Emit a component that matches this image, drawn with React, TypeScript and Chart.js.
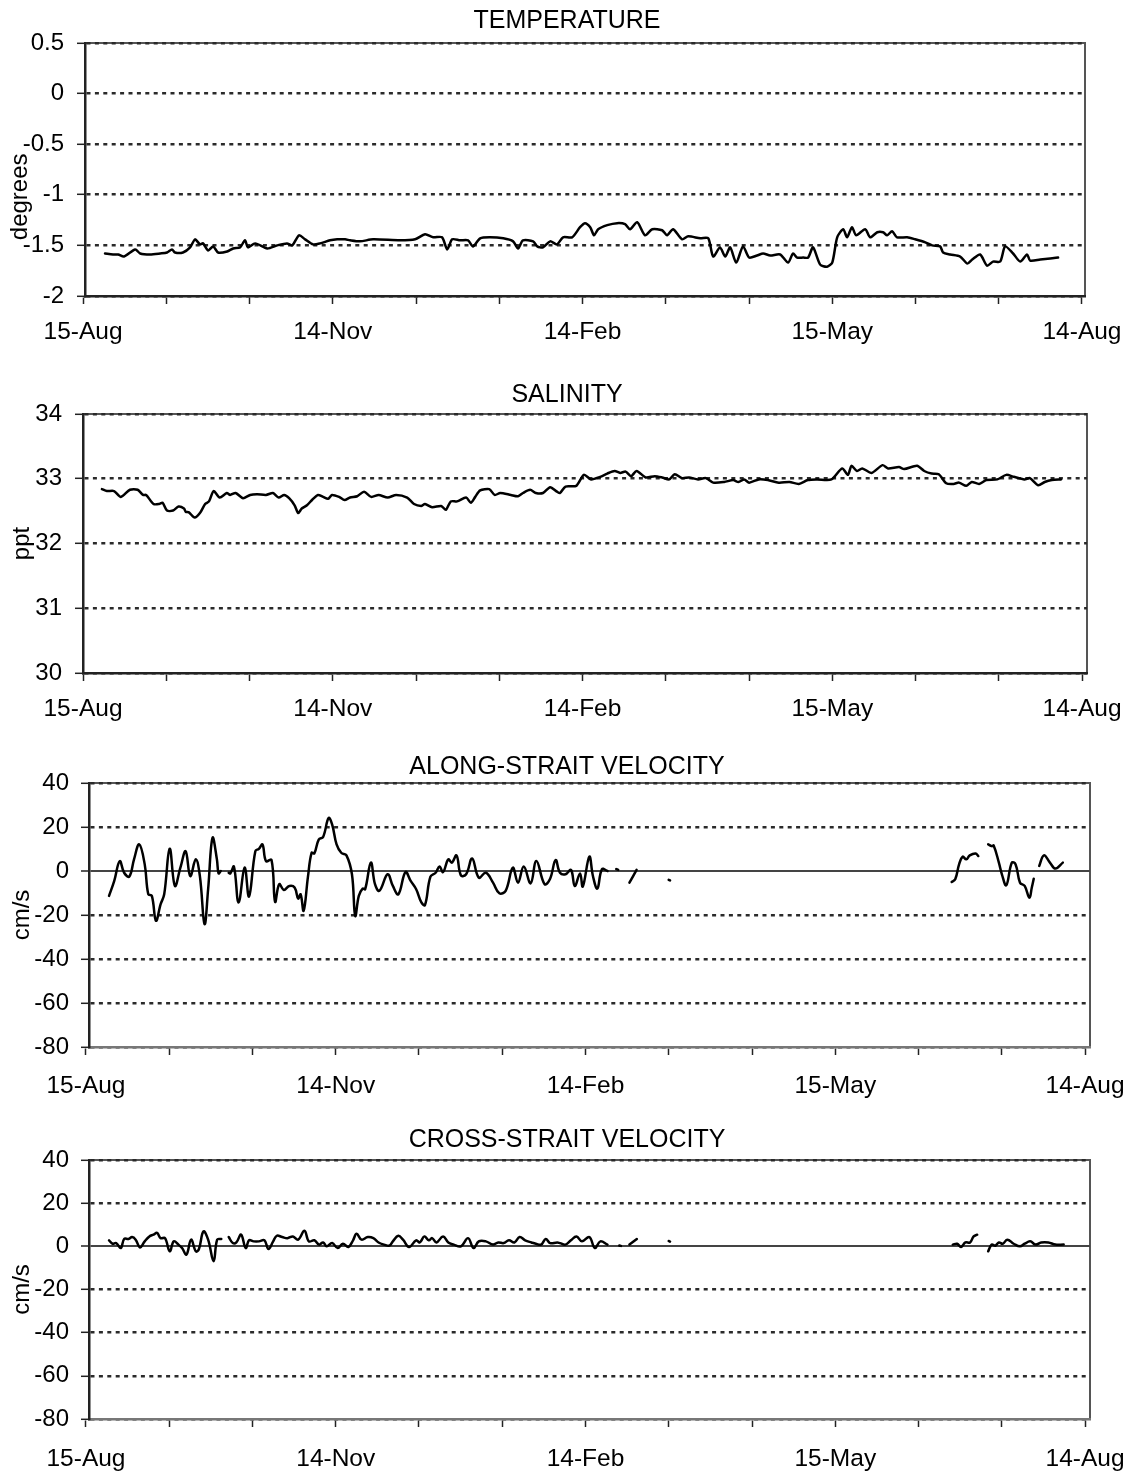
import React, { useEffect, useRef } from 'react';
import { Chart, registerables } from 'chart.js';

Chart.register(...registerables);

const FONT = '"Liberation Sans", Arial, Helvetica, sans-serif';

// ---------- axis labels / ticks ----------
const xTickDays = [0, 30.33, 60.67, 91, 121.33, 151.67, 182, 212.33, 242.67, 273, 303.33, 333.67, 364];
const xTickLabels = ['15-Aug', '14-Nov', '14-Feb', '15-May', '14-Aug'];
const tempTicks = [0.5, 0, -0.5, -1, -1.5, -2];
const salTicks = [34, 33, 32, 31, 30];
const velTicks = [40, 20, 0, -20, -40, -60, -80];

// ---------- TEMPERATURE (days since 15-Aug, degrees) ----------
const tempDays = [8.0, 10.9, 12.8, 14.9, 19.0, 20.8, 24.4, 28.1, 30.6, 32.4, 33.5, 36.4, 39.0, 40.8, 42.6, 43.7, 45.6, 47.4, 49.2, 52.5, 54.7, 57.2, 59.0, 60.1, 62.7, 67.1, 70.7, 74.3, 76.2, 78.7, 80.9, 83.8, 86.4, 90.0, 92.6, 95.5, 97.3, 100.9, 105.7, 115.5, 121.0, 124.6, 127.6, 130.8, 132.7, 134.5, 137.4, 140.3, 142.1, 144.7, 148.3, 153.1, 156.7, 158.5, 160.3, 164.0, 165.5, 167.6, 170.2, 172.7, 174.9, 178.2, 181.1, 182.9, 184.8, 186.2, 187.7, 191.0, 194.6, 197.5, 199.3, 201.9, 204.8, 207.4, 211.0, 212.8, 215.0, 218.3, 220.5, 224.9, 227.8, 229.6, 232.1, 234.0, 235.8, 238.0, 240.5, 242.7, 245.6, 247.8, 250.4, 254.0, 256.9, 258.7, 260.2, 262.4, 264.2, 266.0, 268.6, 271.1, 273.0, 274.8, 277.0, 278.4, 280.2, 281.7, 285.0, 286.8, 289.4, 291.5, 293.0, 294.8, 296.6, 300.3, 303.2, 306.9, 309.4, 312.3, 313.4, 316.0, 319.6, 322.2, 324.0, 326.9, 329.4, 331.6, 334.2, 336.0, 338.9, 341.5, 344.0, 345.1, 348.8, 352.4, 355.3];
const tempValues = [-1.58, -1.59, -1.59, -1.61, -1.54, -1.58, -1.59, -1.58, -1.57, -1.54, -1.57, -1.57, -1.52, -1.44, -1.49, -1.48, -1.55, -1.51, -1.57, -1.56, -1.53, -1.52, -1.45, -1.52, -1.48, -1.53, -1.50, -1.48, -1.50, -1.40, -1.44, -1.49, -1.48, -1.45, -1.44, -1.44, -1.45, -1.46, -1.44, -1.45, -1.44, -1.39, -1.42, -1.42, -1.54, -1.44, -1.45, -1.45, -1.51, -1.43, -1.42, -1.43, -1.46, -1.53, -1.45, -1.46, -1.51, -1.52, -1.46, -1.49, -1.42, -1.42, -1.32, -1.28, -1.32, -1.40, -1.34, -1.30, -1.28, -1.29, -1.34, -1.27, -1.40, -1.34, -1.35, -1.40, -1.34, -1.44, -1.41, -1.43, -1.43, -1.61, -1.52, -1.61, -1.52, -1.67, -1.51, -1.62, -1.60, -1.58, -1.60, -1.59, -1.67, -1.58, -1.62, -1.62, -1.62, -1.52, -1.69, -1.71, -1.67, -1.42, -1.34, -1.42, -1.32, -1.40, -1.34, -1.42, -1.37, -1.37, -1.40, -1.36, -1.42, -1.42, -1.44, -1.47, -1.50, -1.51, -1.57, -1.59, -1.61, -1.68, -1.64, -1.59, -1.70, -1.66, -1.66, -1.51, -1.58, -1.66, -1.59, -1.65, -1.64, -1.63, -1.62];

// ---------- SALINITY (ppt) ----------
const salDays = [6.9, 8.7, 11.3, 13.8, 17.1, 19.9, 21.9, 23.0, 25.7, 27.7, 29.0, 30.6, 32.8, 34.8, 36.8, 37.4, 38.6, 40.7, 42.6, 44.5, 45.9, 47.6, 49.8, 52.4, 53.6, 55.6, 58.3, 60.9, 63.4, 66.7, 69.2, 71.3, 73.3, 75.1, 77.1, 78.4, 79.7, 81.6, 83.6, 85.6, 87.5, 89.3, 90.7, 93.3, 95.3, 97.3, 99.9, 102.4, 105.0, 107.7, 111.0, 114.1, 118.1, 120.6, 123.2, 124.6, 127.2, 130.5, 132.2, 134.0, 136.3, 139.6, 141.3, 142.9, 144.7, 148.0, 150.0, 152.0, 155.9, 158.5, 160.3, 162.9, 165.0, 167.6, 170.2, 172.7, 173.8, 175.8, 179.7, 182.5, 185.1, 188.4, 191.0, 193.7, 195.7, 197.7, 199.7, 201.7, 205.0, 208.3, 211.0, 213.6, 215.6, 218.3, 220.8, 224.1, 226.9, 229.6, 233.6, 236.9, 238.8, 240.9, 242.7, 246.2, 249.5, 253.5, 257.4, 260.8, 264.1, 267.4, 272.7, 276.6, 278.7, 280.0, 282.0, 283.9, 287.3, 291.3, 293.3, 297.3, 299.2, 303.9, 306.5, 309.2, 311.8, 314.5, 317.2, 319.2, 321.8, 323.8, 326.5, 329.1, 333.1, 336.4, 339.1, 343.0, 345.0, 348.0, 350.4, 353.0, 356.3];
const salValues = [32.84, 32.81, 32.81, 32.72, 32.83, 32.83, 32.75, 32.75, 32.61, 32.61, 32.63, 32.51, 32.51, 32.57, 32.54, 32.49, 32.48, 32.40, 32.47, 32.61, 32.65, 32.81, 32.71, 32.78, 32.75, 32.78, 32.70, 32.75, 32.76, 32.75, 32.78, 32.71, 32.75, 32.70, 32.59, 32.47, 32.54, 32.59, 32.68, 32.75, 32.72, 32.69, 32.75, 32.72, 32.67, 32.71, 32.73, 32.80, 32.72, 32.75, 32.71, 32.75, 32.71, 32.61, 32.58, 32.61, 32.56, 32.58, 32.52, 32.65, 32.65, 32.71, 32.63, 32.72, 32.82, 32.84, 32.75, 32.78, 32.75, 32.73, 32.78, 32.83, 32.78, 32.78, 32.87, 32.80, 32.78, 32.88, 32.89, 33.06, 32.99, 33.03, 33.08, 33.12, 33.09, 33.11, 33.04, 33.12, 33.02, 33.04, 33.02, 32.99, 33.07, 33.01, 33.02, 32.99, 33.01, 32.94, 32.95, 32.98, 32.95, 32.99, 32.94, 32.99, 32.98, 32.94, 32.95, 32.92, 32.98, 32.99, 32.99, 33.16, 33.06, 33.20, 33.12, 33.16, 33.09, 33.21, 33.16, 33.18, 33.15, 33.20, 33.12, 33.08, 33.07, 32.93, 32.92, 32.94, 32.89, 32.95, 32.92, 32.98, 32.99, 33.06, 33.03, 32.99, 33.01, 32.90, 32.95, 32.98, 32.99];

// ---------- ALONG-STRAIT VELOCITY (cm/s), null = gap in record ----------
const alongDays = [8.4, 10.3, 12.3, 13.9, 15.8, 17.5, 19.4, 21.4, 22.7, 24.0, 25.5, 27.2, 28.5, 30.5, 32.4, 34.4, 36.3, 38.0, 40.0, 41.5, 43.2, 44.5, 46.1, 47.7, 48.3, 49.1,
  50.5,
  52.0, 52.6, 53.9, 55.6, 57.8, 59.4, 61.7, 63.0, 64.3, 65.6, 67.6, 68.9, 70.4, 72.1, 74.1, 76.0, 77.3, 78.2, 79.3, 80.9, 82.2, 83.2, 84.8, 86.4, 88.4, 89.7, 91.3, 93.0, 94.9, 96.9, 98.1, 99.4, 100.8, 101.7, 103.8, 105.3, 106.9, 109.9, 111.8, 113.8, 116.4, 118.3, 120.3, 122.2, 123.5, 125.5, 127.4, 128.8, 130.1, 132.0, 133.3, 135.0, 136.6, 138.5, 140.7, 143.1, 145.7, 148.3, 150.6, 152.9, 155.5, 157.4, 159.5, 162.0, 164.1, 167.1, 169.1, 171.1, 172.7, 174.7, 176.7, 178.1, 180.0, 181.0, 183.4, 184.7, 186.3, 188.0, 190.0,
  191.0, 193.2, 193.9, 195.0, 198.0, 200.6, 205.0, 212.3, 212.8, 260.0,
  315.4, 316.7, 318.1, 319.4, 320.7, 322.0, 324.1, 325.1,
  327.0,
  328.7, 330.0, 330.7, 332.6, 333.7, 335.3, 337.3, 338.7, 340.3, 342.0, 343.7, 344.6, 345.3,
  346.3,
  347.3, 349.0, 351.2, 353.2, 355.9];
const alongValues = [-11.3, -4.5, 4.5, -0.8, -2.5, 5.3, 12.1, 3.0, -10.6, -11.3, -22.6, -15.1, -10.6, 10.1, -6.8, 1.5, 9.0, -2.3, 5.3, -2.3, -24.1, -8.3, 15.1, 5.3, -1.1, 0,
  null,
  -0.8, -1.1, 2.0, -14.3, 1.5, -11.6, 9.0, 10.1, 12.1, 4.5, 5.0, -14.0, -6.0, -8.6, -6.8, -7.5, -12.5, -10.6, -18.1, -2.3, 8.3, 8.0, 14.3, 15.5, 24.1, 21.1, 12.1, 8.3, 7.1, -1.5, -20.4, -11.3, -8.0, -8.3, 3.8, -6.0, -9.0, -1.5, -6.8, -10.6, -0.5, -4.5, -8.3, -14.3, -15.5, -2.6, -0.8, 2.0, -0.5, 5.3, 3.8, 7.1, -2.0, -1.5, 5.7, -3.0, -0.8, -5.3, -10.1, -9.0, 1.5, -5.3, 2.0, -5.6, 4.5, -6.0, -3.5, 5.0, -0.8, -1.5, 0.5, -6.8, -1.1, -7.1, 6.5, -2.3, -8.0, 0.8, 0,
  null, 0.9, 0.5, null, -5.3, 0.5, null, -4.0, -4.3, null,
  -5.0, -3.8, 3.0, 6.5, 5.3, 7.1, 8.0, 6.8,
  null,
  12.1, 11.3, 11.6, 3.8, -1.5, -6.5, 3.8, 3.0, -5.3, -6.8, -12.1, -7.5, -3.5,
  null,
  2.3, 7.1, 3.8, 1.1, 3.8];

// ---------- CROSS-STRAIT VELOCITY (cm/s), null = gap in record ----------
const crossDays = [8.4, 9.7, 11.0, 12.7, 13.9, 15.5, 16.8, 18.1, 19.7, 21.4, 23.1, 24.6, 25.9, 27.2, 28.8, 30.5, 32.0, 33.7, 35.0, 36.6, 38.3, 40.0, 41.1, 42.8, 44.5, 46.5, 47.8, 49.3,
  50.5,
  52.0, 53.5, 54.8, 56.5, 58.2, 59.4, 61.1, 63.0, 65.0, 66.5, 68.2, 69.5, 71.5, 73.4, 75.4, 77.3, 79.6, 81.2, 83.2, 84.9, 86.4, 87.7, 89.7, 91.7, 93.6, 95.6, 97.3, 98.6, 100.4, 102.7, 104.7, 106.6, 108.6, 110.5, 111.8, 113.8, 115.5, 117.7, 120.3, 121.6, 123.3, 124.9, 126.1, 127.7, 130.1, 132.0, 134.0, 136.6, 139.2, 141.2, 143.1, 145.7, 148.3, 150.2, 152.2, 154.1, 156.1, 158.0, 160.0, 162.3, 163.9, 165.8, 167.5, 169.1, 171.7, 172.7, 174.7, 176.7, 178.7, 180.7, 183.4, 185.4, 187.4, 190.0,
  192.0, 194.3, 194.9, 196.0, 198.0, 200.7, 205.0, 212.3, 212.8, 260.0,
  315.8, 317.4, 318.8, 320.4, 322.1, 323.4, 324.7,
  326.5,
  328.7, 330.0, 331.3, 332.6, 334.0, 335.7, 338.0, 340.3, 342.0, 344.0, 346.0, 348.0, 350.6, 353.2, 356.2];
const crossValues = [2.8, 1.2, 1.5, -0.8, 3.4, 3.4, 4.3, 3.1, -0.5, 2.3, 4.6, 5.4, 6.2, 3.8, 3.8, -2.3, 2.3, 0.8, -0.8, -3.8, 3.1, -2.3, -1.5, 6.9, 3.1, -6.9, 3.1, 3.4,
  null,
  4.3, 1.5, 1.8, 5.4, -0.8, 2.8, 2.3, 2.3, 2.8, -1.2, 2.3, 4.9, 4.3, 3.8, 4.6, 3.1, 7.2, 2.3, 2.8, 0.8, 1.8, 0, 1.5, -0.8, 1.2, -0.3, 2.8, 5.8, 3.1, 4.3, 3.8, 1.8, 0.8, 0.3, 2.3, 4.9, 3.1, -0.3, 2.8, 1.8, 4.6, 2.8, 3.8, 1.8, 4.6, 1.8, 0.8, 0, 3.8, -0.8, 2.3, 2.3, 0.8, 1.8, 1.5, 2.8, 1.8, 4.3, 2.8, 1.8, 1.2, 0.8, 3.4, 1.5, 1.8, 1.5, 0.8, 2.8, 4.6, 2.3, 4.3, -0.8, 2.3, 0.8,
  null, 0.4, 0.2, null, 0.8, 3.4, null, 2.5, 2.2, null,
  0.8, 1.2, -0.3, 1.8, 1.8, 4.6, 5.4,
  null,
  -2.3, 0.8, 0.3, 1.8, 1.2, 3.1, 1.2, 0, 1.2, 2.3, 0.8, 1.8, 1.8, 0.8, 0.8];

// ---------- panel layout (page pixels) ----------
type PanelCfg = {
  title: string; yTitle: string; yTitleAt: number; yTitleX: number;
  days: number[]; values: (number | null)[];
  yMin: number; yMax: number; yTicks: number[]; zeroSolid: boolean;
  top: number; height: number; titleCenter: number;
  plotTop: number; plotBottom: number; plotLeft: number; plotRight: number;
  xMin: number; xMax: number; xPad: number; yPad: number; tension: number; xBorder: string;
};

const TITLE_X = 567;

const PANELS: PanelCfg[] = [
  { title: 'TEMPERATURE', yTitle: 'degrees', yTitleAt: -1.02, yTitleX: 20,
    days: tempDays, values: tempValues, yMin: -2, yMax: 0.5, yTicks: tempTicks, zeroSolid: false,
    top: 0, height: 360, titleCenter: 20.5, plotTop: 43, plotBottom: 296, plotLeft: 85, plotRight: 1085,
    xMin: 0.7, xMax: 365.1, xPad: 14, yPad: 13, tension: 0.25, xBorder: '#222' },
  { title: 'SALINITY', yTitle: 'ppt', yTitleAt: 32, yTitleX: 22,
    days: salDays, values: salValues, yMin: 30, yMax: 34, yTicks: salTicks, zeroSolid: false,
    top: 372, height: 358, titleCenter: 394, plotTop: 414, plotBottom: 673, plotLeft: 83, plotRight: 1087,
    xMin: 0, xMax: 365.8, xPad: 14, yPad: 13, tension: 0.25, xBorder: '#222' },
  { title: 'ALONG-STRAIT VELOCITY', yTitle: 'cm/s', yTitleAt: -20, yTitleX: 22,
    days: alongDays, values: alongValues, yMin: -80, yMax: 40, yTicks: velTicks, zeroSolid: true,
    top: 742, height: 370, titleCenter: 766, plotTop: 783, plotBottom: 1047, plotLeft: 89, plotRight: 1090,
    xMin: 1.1, xMax: 365.8, xPad: 17, yPad: 12, tension: 0.4, xBorder: '#777' },
  { title: 'CROSS-STRAIT VELOCITY', yTitle: 'cm/s', yTitleAt: -20, yTitleX: 22,
    days: crossDays, values: crossValues, yMin: -80, yMax: 40, yTicks: velTicks, zeroSolid: true,
    top: 1116, height: 356, titleCenter: 1139, plotTop: 1160, plotBottom: 1419, plotLeft: 89, plotRight: 1090,
    xMin: 1.1, xMax: 365.8, xPad: 18, yPad: 12, tension: 0.4, xBorder: '#777' },
];

const boxPlugin = {
  id: 'plotBox',
  beforeDraw(chart: any) {
    const { ctx, chartArea } = chart;
    if (!chartArea) return;
    ctx.save();
    ctx.strokeStyle = '#555';
    ctx.lineWidth = 2;
    ctx.strokeRect(chartArea.left, chartArea.top, chartArea.right - chartArea.left, chartArea.bottom - chartArea.top);
    ctx.restore();
  },
};

const textPlugin = {
  id: 'panelText',
  afterDraw(chart: any, _args: any, opts: any) {
    const { ctx, scales } = chart;
    ctx.save();
    ctx.fillStyle = '#000';
    ctx.textAlign = 'center';
    ctx.textBaseline = 'middle';
    ctx.font = `25px ${FONT}`;
    ctx.fillText(opts.title, opts.titleX, opts.titleY + 1);
    const y = scales.y.getPixelForValue(opts.at);
    ctx.translate(opts.x, y);
    ctx.rotate(-Math.PI / 2);
    ctx.font = `24px ${FONT}`;
    ctx.fillText(opts.text, 0, 0);
    ctx.restore();
  },
};

function Panel({ cfg }: { cfg: PanelCfg }) {
  const ref = useRef<HTMLCanvasElement | null>(null);

  useEffect(() => {
    if (!ref.current) return;
    const points = cfg.days.map((d, i) => ({ x: d, y: cfg.values[i] }));
    const xAxisHeight = cfg.top + cfg.height - cfg.plotBottom;
    const font = { family: FONT, size: 24, weight: 'normal' as const, lineHeight: 1.2 };
    const xFont = { family: FONT, size: 24.5, weight: 'normal' as const, lineHeight: 1.2 };

    const chart = new Chart(ref.current, {
      type: 'line',
      data: {
        datasets: [{
          data: points as any,
          borderColor: '#000',
          borderWidth: 2.5,
          pointRadius: 0,
          pointHoverRadius: 0,
          tension: cfg.tension,
          spanGaps: false,
          fill: false,
          borderCapStyle: 'round',
          borderJoinStyle: 'round',
        }],
      },
      options: {
        responsive: false,
        animation: false,
        devicePixelRatio: 1,
        events: [],
        layout: { padding: { left: 0, right: 1131 - cfg.plotRight, top: cfg.plotTop - cfg.top, bottom: 0 } },
        plugins: {
          legend: { display: false },
          tooltip: { enabled: false },
          title: { display: false },
          panelText: {
            title: cfg.title, titleX: TITLE_X, titleY: cfg.titleCenter - cfg.top,
            text: cfg.yTitle, at: cfg.yTitleAt, x: cfg.yTitleX,
          },
        } as any,
        scales: {
          x: {
            type: 'linear',
            min: cfg.xMin,
            max: cfg.xMax,
            afterBuildTicks: (s: any) => { s.ticks = xTickDays.map((v) => ({ value: v })); },
            afterFit: (s: any) => {
              s.height = xAxisHeight;
              s.paddingLeft = 0;
              s.paddingRight = 0;
            },
            ticks: {
              autoSkip: false,
              maxRotation: 0,
              minRotation: 0,
              padding: cfg.xPad,
              color: '#000',
              font: xFont,
              callback: (_v: any, i: number) => (i % 3 === 0 ? xTickLabels[i / 3] : ''),
            },
            grid: { drawOnChartArea: false, drawTicks: true, tickLength: 8, tickColor: '#222', tickWidth: 1.5 },
            border: { display: true, color: cfg.xBorder, width: 2.5 },
          },
          y: {
            type: 'linear',
            min: cfg.yMin,
            max: cfg.yMax,
            afterBuildTicks: (s: any) => { s.ticks = cfg.yTicks.map((v) => ({ value: v })); },
            afterFit: (s: any) => {
              s.width = cfg.plotLeft;
              s.paddingTop = 0;
              s.paddingBottom = 0;
            },
            ticks: {
              padding: cfg.yPad,
              color: '#000',
              font,
              callback: (v: any) => String(v),
            },
            grid: {
              color: (ctx: any) => (cfg.zeroSolid && ctx.tick && ctx.tick.value === 0 ? '#444' : '#2a2a2a'),
              lineWidth: (ctx: any) => (cfg.zeroSolid && ctx.tick && ctx.tick.value === 0 ? 2 : 2.6),
              drawTicks: true,
              tickLength: 8,
              tickColor: '#222',
              tickWidth: 1.5,
              tickBorderDash: [],
            },
            border: {
              display: true,
              color: '#222',
              width: 2.5,
              dash: (ctx: any) => (cfg.zeroSolid && ctx.tick && ctx.tick.value === 0 ? [] : [4, 4.4]),
            },
          },
        } as any,
      },
      plugins: [boxPlugin, textPlugin],
    });
    return () => chart.destroy();
  }, [cfg]);

  return (
    <canvas
      ref={ref}
      width={1131}
      height={cfg.height}
      style={{ position: 'absolute', left: 0, top: cfg.top, width: 1131, height: cfg.height, display: 'block' }}
    />
  );
}

export default function App() {
  return (
    <div style={{ position: 'absolute', left: 0, top: 0, width: 1131, height: 1472, background: '#fff', overflow: 'hidden' }}>
      {PANELS.map((p) => (
        <Panel key={p.title} cfg={p} />
      ))}
    </div>
  );
}
